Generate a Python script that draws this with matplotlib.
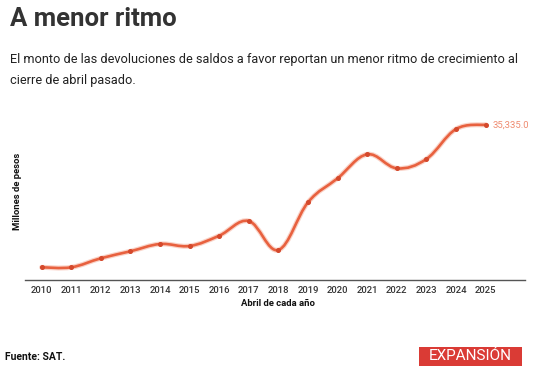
import matplotlib.pyplot as plt
from matplotlib.path import Path
from matplotlib.patches import PathPatch, Rectangle
import numpy as np

plt.rcParams['font.family'] = ['Roboto', 'DejaVu Sans']

# Data (millones de pesos, abril de cada año)
years = [2010, 2011, 2012, 2013, 2014, 2015, 2016, 2017,
         2018, 2019, 2020, 2021, 2022, 2023, 2024, 2025]
values = [2890, 2890, 4940, 6530, 8190, 7740, 10080, 13420,
          6830, 17680, 23140, 28600, 25410, 27530, 34350, 35335]
last_label = "35,335.0"

line_color = "#E8613F"


def smooth_path(x, y, k=0.18):
    """Cubic bezier path through the points (Catmull-Rom style)."""
    x = np.asarray(x, float)
    y = np.asarray(y, float)
    verts = [(x[0], y[0])]
    codes = [Path.MOVETO]
    n = len(x)
    for i in range(n - 1):
        p0 = i - 1 if i > 0 else i
        p3 = i + 2 if i + 2 < n else i + 1
        c1 = (x[i] + (x[i + 1] - x[p0]) * k, y[i] + (y[i + 1] - y[p0]) * k)
        c2 = (x[i + 1] - (x[p3] - x[i]) * k, y[i + 1] - (y[p3] - y[i]) * k)
        verts += [c1, c2, (x[i + 1], y[i + 1])]
        codes += [Path.CURVE4] * 3
    return Path(verts, codes)


fig = plt.figure(figsize=(5.45, 3.76), dpi=100)
fig.patch.set_facecolor("white")

ax = fig.add_axes([0.0459, 0.2553, 0.9174, 0.4521])
ax.set_xlim(2009.44, 2026.33)
ax.set_ylim(0, 38675)

# soft glow under the line, then the line itself
ax.add_patch(PathPatch(smooth_path(years, values), facecolor="none",
                       edgecolor="#F6B6A4", lw=3.6, capstyle="round", alpha=0.6))
ax.add_patch(PathPatch(smooth_path(years, values), facecolor="none",
                       edgecolor=line_color, lw=1.9, capstyle="round"))
ax.plot(years, values, "o", color="#D4492C", ms=2.6, zorder=3)
ax.annotate(last_label, (years[-1], values[-1]), xytext=(5, 0),
            textcoords="offset points", va="center", ha="left",
            fontsize=6.8, color="#EF8B70")

for s in ["top", "right", "left"]:
    ax.spines[s].set_visible(False)
ax.spines["bottom"].set_color("#555555")
ax.spines["bottom"].set_linewidth(1.0)
ax.set_yticks([])
ax.set_xticks(years)
ax.set_xticklabels([str(y) for y in years], fontsize=6.8, color="#333333",
                   fontweight="medium")
ax.tick_params(axis="x", length=0, pad=4)
ax.set_xlabel("Abril de cada año", fontsize=6.8, fontweight="bold",
              color="#111111")
ax.xaxis.set_label_coords(0.506, -0.112)
ax.set_ylabel("Millones de pesos", fontsize=6.8, fontweight="bold",
              color="#111111")
ax.yaxis.set_label_coords(-0.006, 0.519)

# Title and subtitle
fig.text(0.018, 0.949, "A menor ritmo", fontsize=18.5, fontweight="bold",
         color="#333333", va="center", ha="left")
fig.text(0.018, 0.842, "El monto de las devoluciones de saldos a favor reportan un menor ritmo de crecimiento al",
         fontsize=9.2, color="#222222", va="center", ha="left")
fig.text(0.018, 0.785, "cierre de abril pasado.",
         fontsize=9.2, color="#222222", va="center", ha="left")

# Footer
fig.text(0.009, 0.05, "Fuente: SAT.", fontsize=7.5, fontweight="bold",
         color="#111111", va="center", ha="left")
fig.patches.append(Rectangle((0.769, 0.0266), 0.189, 0.0505,
                             transform=fig.transFigure, facecolor="#DA3B35",
                             edgecolor="none"))
fig.text(0.863, 0.052, "EXPANSIÓN", fontsize=11, color="white",
         va="center", ha="center")

fig.savefig("out.png", dpi=100, facecolor="white")
